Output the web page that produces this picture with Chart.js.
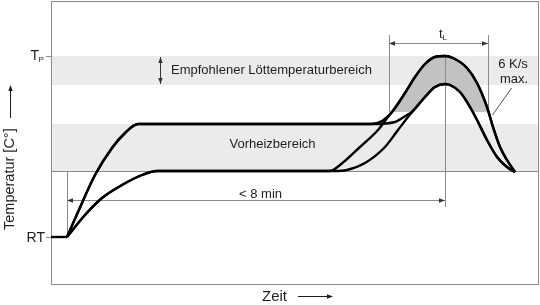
<!DOCTYPE html>
<html>
<head>
<meta charset="utf-8">
<script src="https://cdn.jsdelivr.net/npm/chart.js@4.4.0/dist/chart.umd.min.js"></script>
<style>
  html, body { margin: 0; padding: 0; background: #fff; }
  #chart { display: block; }
</style>
</head>
<body>
<canvas id="chart" width="540" height="305"></canvas>
<script>
// Zeit / Temperatur in freien Einheiten (das Original hat keine Skala)
const rtLine = [[0, 48], [16, 48]];
const rampUpper = [[16, 48], [27, 73], [44, 110], [61, 137], [74, 152], [87, 161]];
const rampLower = [[16, 48], [34, 70], [51, 87], [71, 100], [91, 110], [106, 114]];
const upperToHigh = [[320, 161], [331, 164]];
const upperToLow = [[322, 161], [344, 163], [356, 170]];
const lowerToHigh = [[279, 114], [289, 120], [309, 138], [327, 155], [337, 168]];
const lowerToLow = [[284, 114], [296, 115], [314, 122], [334, 138], [347, 155]];
const peakHigh = [[341, 173], [354, 192], [364, 208], [374, 221], [384, 228], [394, 229], [402, 227],
  [416, 217], [426, 202], [436, 178], [442, 158], [449, 138], [456, 125], [464, 113]];
const peakLow = [[361, 173], [374, 188], [384, 198], [394, 201], [399, 200], [409, 193], [419, 178],
  [426, 165], [436, 145], [446, 128], [456, 118], [464, 113]];

const solderBand = [200, 229];    // Empfohlener Löttemperaturbereich
const preheatBand = [114, 161];   // Vorheizbereich
const tempPeak = 229;             // T_P
const tempRoom = 48;              // RT
const tempLiquid = 173;
const timeStart = 16;
const timePeak = 394;
const timeLiquid = [338, 437];    // t_L

const FONT = '"Liberation Sans", Arial, sans-serif';
const LINE = '#8a8a8a';
const INK = '#1e1e1e';

function arrowHead(ctx, x1, y1, x2, y2) {
  const ang = Math.atan2(y2 - y1, x2 - x1);
  ctx.beginPath();
  ctx.moveTo(x2, y2);
  ctx.lineTo(x2 - 6 * Math.cos(ang) + 2.2 * Math.sin(ang), y2 - 6 * Math.sin(ang) - 2.2 * Math.cos(ang));
  ctx.lineTo(x2 - 6 * Math.cos(ang) - 2.2 * Math.sin(ang), y2 - 6 * Math.sin(ang) + 2.2 * Math.cos(ang));
  ctx.closePath();
  ctx.fill();
}

function line(ctx, x1, y1, x2, y2) {
  ctx.beginPath();
  ctx.moveTo(x1, y1);
  ctx.lineTo(x2, y2);
  ctx.stroke();
}

const sketch = {
  id: 'sketch',
  beforeDatasetsDraw(chart) {
    const {ctx, chartArea: a, scales: {x, y}} = chart;
    const px = v => x.getPixelForValue(v);
    const py = v => y.getPixelForValue(v);
    ctx.save();

    // Bereiche
    ctx.fillStyle = '#ebebeb';
    for (const b of [solderBand, preheatBand]) {
      ctx.fillRect(a.left, py(b[1]), a.right - a.left, py(b[0]) - py(b[1]));
    }

    // Fläche oberhalb Liquidus zwischen den Kurven
    const hi = chart.getDatasetMeta(1).dataset;
    const lo = chart.getDatasetMeta(4).dataset;
    if (hi && lo && hi.path) {
      ctx.save();
      ctx.beginPath();
      ctx.rect(a.left, a.top, a.right - a.left, py(tempLiquid) - a.top);
      ctx.clip();
      ctx.beginPath();
      hi.path(ctx);
      ctx.lineTo(a.right, a.bottom);
      ctx.lineTo(a.left, a.bottom);
      ctx.closePath();
      ctx.clip();
      ctx.beginPath();
      lo.path(ctx);
      ctx.lineTo(a.right, a.top);
      ctx.lineTo(a.left, a.top);
      ctx.closePath();
      ctx.fillStyle = '#c2c2c2';
      ctx.fill();
      ctx.restore();
    }

    ctx.strokeStyle = LINE;
    ctx.lineWidth = 1;
    const r = v => Math.round(v) + 0.5;

    // Rahmen
    ctx.strokeRect(r(a.left), r(a.top), Math.round(a.right - a.left) - 1, Math.round(a.bottom - a.top) - 1);
    line(ctx, a.left, r(py(preheatBand[0])), a.right, r(py(preheatBand[0])));

    // Striche an der Temperaturachse
    line(ctx, a.left - 5, r(py(tempPeak)), a.left, r(py(tempPeak)));
    line(ctx, a.left - 5, r(py(tempRoom)), a.left, r(py(tempRoom)));

    // < 8 min
    line(ctx, r(px(timeStart)), py(tempRoom), r(px(timeStart)), py(preheatBand[0]));
    line(ctx, r(px(timePeak)), py(tempPeak), r(px(timePeak)), py(78));
    ctx.fillStyle = '#333';
    line(ctx, px(timeStart), r(py(85)), px(timePeak), r(py(85)));
    arrowHead(ctx, px(timePeak), r(py(85)), px(timeStart), r(py(85)));
    arrowHead(ctx, px(timeStart), r(py(85)), px(timePeak), r(py(85)));

    // t_L
    for (const t of timeLiquid) line(ctx, r(px(t)), py(250), r(px(t)), py(tempLiquid));
    line(ctx, px(timeLiquid[0]), r(py(242)), px(timeLiquid[1]), r(py(242)));
    arrowHead(ctx, px(timeLiquid[1]), r(py(242)), px(timeLiquid[0]), r(py(242)));
    arrowHead(ctx, px(timeLiquid[0]), r(py(242)), px(timeLiquid[1]), r(py(242)));

    // Doppelpfeil Lötbereich
    ctx.strokeStyle = '#333';
    const xb = r(px(108.5));
    line(ctx, xb, py(solderBand[1]) + 1, xb, py(solderBand[0]) - 1);
    arrowHead(ctx, xb, py(solderBand[0]), xb, py(solderBand[1]) + 1);
    arrowHead(ctx, xb, py(solderBand[1]), xb, py(solderBand[0]) - 1);

    // Hinweislinie 6 K/s
    ctx.strokeStyle = '#555';
    line(ctx, px(460.7), py(197), px(441.5), py(170));
    ctx.restore();
  },
  afterDatasetsDraw(chart) {
    const {ctx, chartArea: a, scales: {x, y}} = chart;
    const px = v => x.getPixelForValue(v);
    const py = v => y.getPixelForValue(v);
    ctx.save();
    ctx.fillStyle = INK;
    ctx.textBaseline = 'alphabetic';

    ctx.font = '13px ' + FONT;
    ctx.textAlign = 'left';
    ctx.fillText('Empfohlener Löttemperaturbereich', px(120), py(210.7));
    ctx.textAlign = 'center';
    ctx.fillText('Vorheizbereich', px(221.5), py(136.7));
    ctx.fillText('< 8 min', px(209.5), py(87.5));
    ctx.fillText('6 K/s', px(462), py(216.7));
    ctx.fillText('max.', px(463), py(201.7));

    // t_L
    ctx.textAlign = 'left';
    ctx.font = '13px ' + FONT;
    ctx.fillText('t', px(388), py(247));
    ctx.font = '8px ' + FONT;
    ctx.fillText('L', px(391.5), py(245));

    // T_P und RT
    ctx.font = '14px ' + FONT;
    ctx.textAlign = 'right';
    ctx.fillText('T', a.left - 12, py(tempPeak) + 4);
    ctx.fillText('RT', a.left - 6, py(tempRoom) + 5);
    ctx.textAlign = 'left';
    ctx.font = '8px ' + FONT;
    ctx.fillText('P', a.left - 12.5, py(tempPeak) + 6);

    // Achsentitel
    ctx.font = '14.5px ' + FONT;
    ctx.save();
    ctx.translate(13.5, 230);
    ctx.rotate(-Math.PI / 2);
    ctx.fillText('Temperatur [C°]', 0, 0);
    ctx.restore();
    ctx.strokeStyle = INK;
    ctx.lineWidth = 1;
    line(ctx, 10.5, 118, 10.5, 88);
    arrowHead(ctx, 10.5, 118, 10.5, 85);

    ctx.font = '15px ' + FONT;
    ctx.fillText('Zeit', 262, 301);
    line(ctx, 298, 296.5, 329, 296.5);
    arrowHead(ctx, 298, 296.5, 333, 296.5);
    ctx.restore();
  }
};

function curve(points) {
  return {
    data: points,
    borderColor: '#000',
    borderWidth: 2.4,
    pointRadius: 0,
    cubicInterpolationMode: 'monotone',
    fill: false
  };
}

new Chart(document.getElementById('chart'), {
  type: 'line',
  data: {
    datasets: [
      {data: rtLine, borderColor: '#000', borderWidth: 2.4, pointRadius: 0, tension: 0, fill: false},
      curve(rampUpper.concat(upperToHigh, peakHigh)),
      curve(rampUpper.concat(upperToLow, peakLow)),
      curve(rampLower.concat(lowerToHigh, peakHigh)),
      curve(rampLower.concat(lowerToLow, peakLow))
    ]
  },
  options: {
    responsive: false,
    animation: false,
    devicePixelRatio: 1,
    layout: {padding: {left: 51, top: 1, right: 1, bottom: 20}},
    scales: {
      x: {type: 'linear', min: 0, max: 488, display: false},
      y: {min: 0, max: 284, display: false}
    },
    plugins: {legend: {display: false}, tooltip: {enabled: false}}
  },
  plugins: [sketch]
});
</script>
</body>
</html>
